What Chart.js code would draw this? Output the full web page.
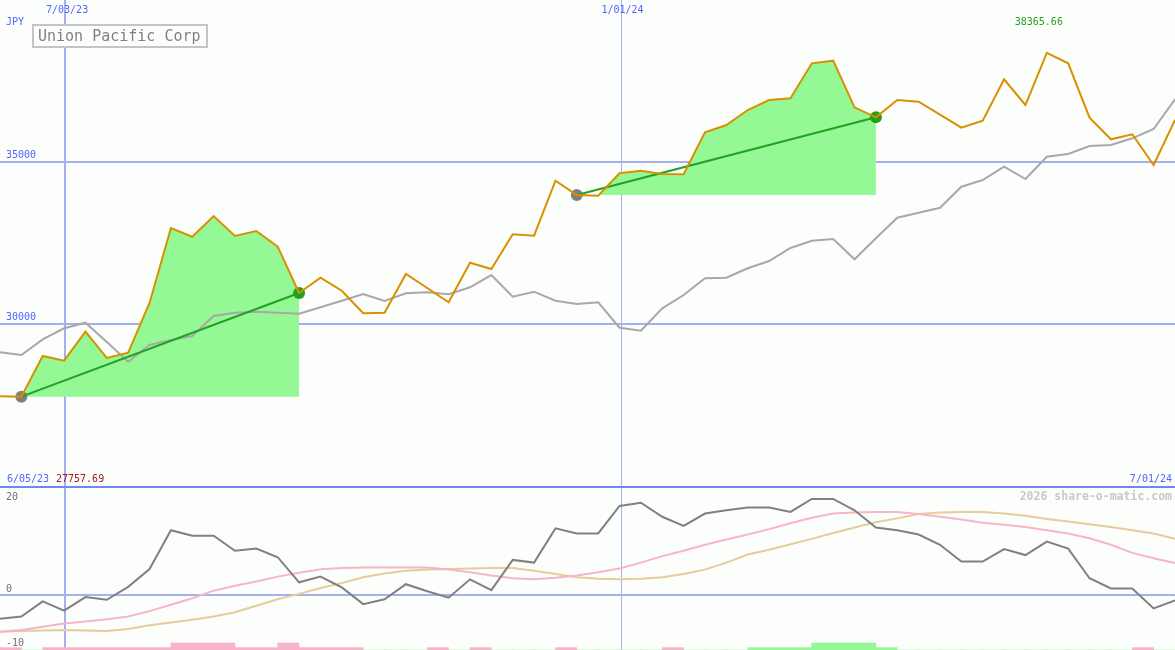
<!DOCTYPE html>
<html>
<head>
<meta charset="utf-8">
<script src="https://cdn.jsdelivr.net/npm/chart.js@4/dist/chart.umd.min.js"></script>
<style>
  html, body { margin: 0; padding: 0; background: #fcfefc; }
  #wrap { position: relative; width: 1175px; height: 650px; overflow: hidden; background: #fcfefc; }
  canvas { position: absolute; left: 0; }
  #priceChart { top: 0; }
  #oscChart { top: 486px; }
</style>
</head>
<body>
<div id="wrap">
  <canvas id="priceChart" width="1175" height="486"></canvas>
  <canvas id="oscChart" width="1175" height="164"></canvas>
</div>
<script>
// weekly closes, one per week (index 0 .. 55)
const price = [27770, 27757.69, 29012, 28867, 29762, 28951, 29114, 30648, 32963, 32694,
  33333, 32716, 32870, 32386, 30957, 31429, 31028, 30330, 30349, 31543,
  31111, 30670, 31892, 31697, 32768, 32725, 34423, 33981, 33961, 34651,
  34731, 34630, 34620, 35916, 36142, 36605, 36914, 36966, 38046, 38127,
  36688, 36379, 36914, 36862, 36460, 36059, 36275, 37552, 36759, 38365.66,
  38046, 36367, 35700, 35855, 34907, 36296];

// comparison index, rebased to the same currency
const bench = [29126, 29043, 29527, 29867, 30040, 29444, 28837, 29352, 29506, 29630,
  30247, 30349, 30380, 30349, 30318, 30515, 30719, 30926, 30710, 30947,
  30978, 30917, 31133, 31512, 30843, 30997, 30719, 30617, 30670, 29886,
  29794, 30484, 30895, 31410, 31429, 31719, 31944, 32346, 32571, 32623,
  31997, 32645, 33281, 33435, 33589, 34237, 34444, 34855, 34475, 35163,
  35247, 35494, 35525, 35731, 36018, 36935];

// lower panel
const momentum = [-4.4, -4.0, -1.2, -2.9, -0.4, -0.9, 1.5, 4.8, 12.0, 11.0,
  11.0, 8.2, 8.6, 7.0, 2.35, 3.4, 1.4, -1.7, -0.8, 2.0,
  0.7, -0.5, 2.9, 0.9, 6.5, 6.0, 12.35, 11.4, 11.4, 16.5,
  17.1, 14.5, 12.8, 15.1, 15.7, 16.2, 16.2, 15.4, 17.8, 17.8,
  15.7, 12.5, 12.0, 11.2, 9.3, 6.2, 6.2, 8.5, 7.4, 9.9,
  8.6, 3.1, 1.2, 1.2, -2.5, -1.0];
const avgFast = [-6.8, -6.5, -5.9, -5.3, -4.9, -4.5, -4.0, -3.0, -1.8, -0.6,
  0.8, 1.7, 2.5, 3.4, 4.1, 4.75, 5.0, 5.1, 5.1, 5.1,
  5.1, 4.7, 4.2, 3.6, 3.1, 2.9, 3.2, 3.6, 4.2, 4.9,
  6.0, 7.2, 8.2, 9.3, 10.3, 11.2, 12.2, 13.3, 14.3, 15.1,
  15.3, 15.4, 15.4, 15.0, 14.5, 14.0, 13.4, 13.0, 12.6, 12.0,
  11.4, 10.5, 9.3, 7.8, 6.8, 5.9];
const avgSlow = [-6.8, -6.7, -6.6, -6.5, -6.6, -6.7, -6.3, -5.6, -5.1, -4.6,
  -4.0, -3.2, -2.0, -0.8, 0.2, 1.3, 2.2, 3.3, 4.0, 4.5,
  4.7, 4.8, 4.9, 5.0, 5.0, 4.5, 3.9, 3.3, 3.0, 2.9,
  3.0, 3.3, 3.9, 4.7, 6.0, 7.5, 8.4, 9.4, 10.4, 11.5,
  12.5, 13.5, 14.2, 15.0, 15.3, 15.4, 15.4, 15.1, 14.7, 14.1,
  13.6, 13.1, 12.6, 12.0, 11.4, 10.4];
// signal per week interval: negative = sell (pink), positive = buy (green)
const signal = [-1, 0, -1, -1, -1, -1, -1, -1, -3, -3,
  -3, -1, -1, -3, -1, -1, -1, 0, 0, 0,
  -1, 0, -1, 0, 0, 0, -1, 0, 0, 0,
  0, -1, 0, 0, 0, 1, 1, 1, 3, 3,
  3, 1, 0, 0, 0, 0, 0, 0, 0, 0,
  0, 0, 0, -1, 0];

// rising runs (start index, end index)
const runStart = [1, 27];
const runEnd = [14, 41];

const priceTicks = [30000, 35000];
const oscTicks = [20, 0, -10];
const dateIdx = [3, 29];
const dateLabels = ['7/03/23', '1/01/24'];
const firstDate = '6/05/23';
const lastDate = '7/01/24';
const currency = 'JPY';
const title = 'Union Pacific Corp';

const FONT = '"DejaVu Sans Mono", "Liberation Mono", monospace';
const BLUE = '#5064ff';
const GRID = '#a4b0f0';

const pts = arr => arr.map((v, i) => ({ x: i, y: v }));

const datasets = [];
runStart.forEach((s, k) => {
  const e = runEnd[k];
  datasets.push({
    data: price.slice(s, e + 1).map((v, j) => ({ x: s + j, y: v })),
    fill: { value: price[s] },
    backgroundColor: '#94f894',
    borderWidth: 0,
    borderColor: 'rgba(0,0,0,0)',
    pointRadius: 0,
    order: 5
  });
});
datasets.push({
  data: pts(bench), borderColor: '#a8a8a8', borderWidth: 2, pointRadius: 0, fill: false, order: 4
});
const dotData = [], dotColors = [];
runStart.forEach((s, k) => {
  dotData.push({ x: s, y: price[s] });
  dotColors.push('#808080');
  dotData.push({ x: runEnd[k], y: price[runEnd[k]] });
  dotColors.push('#22a022');
});
datasets.push({
  data: dotData, showLine: false, pointRadius: 6, pointBorderWidth: 0,
  pointBackgroundColor: dotColors, order: 3
});
runStart.forEach((s, k) => {
  datasets.push({
    data: [{ x: s, y: price[s] }, { x: runEnd[k], y: price[runEnd[k]] }],
    borderColor: '#22a022', borderWidth: 2, pointRadius: 0, fill: false, order: 2
  });
});
datasets.push({
  data: pts(price), borderColor: '#d99000', borderWidth: 2, pointRadius: 0, fill: false, order: 0
});

function vLines(chart) {
  const ctx = chart.ctx, x = chart.scales.x, a = chart.chartArea;
  ctx.save();
  ctx.strokeStyle = GRID;
  dateIdx.forEach((d, i) => {
    const px = Math.round(x.getPixelForValue(d));
    ctx.lineWidth = i === 0 ? 2 : 1;
    ctx.beginPath();
    ctx.moveTo(px + (i === 0 ? 1 : 1.5), a.top);
    ctx.lineTo(px + (i === 0 ? 1 : 1.5), a.bottom);
    ctx.stroke();
  });
  ctx.restore();
}

const pricePlugin = {
  id: 'priceDecor',
  beforeDatasetsDraw(chart) {
    const ctx = chart.ctx, y = chart.scales.y, a = chart.chartArea;
    ctx.save();
    ctx.strokeStyle = GRID;
    ctx.lineWidth = 2;
    priceTicks.forEach(t => {
      const py = Math.round(y.getPixelForValue(t));
      ctx.beginPath();
      ctx.moveTo(a.left, py);
      ctx.lineTo(a.right, py);
      ctx.stroke();
    });
    ctx.restore();
    vLines(chart);
  },
  afterDatasetsDraw(chart) {
    const ctx = chart.ctx, x = chart.scales.x, y = chart.scales.y, a = chart.chartArea;
    ctx.save();
    ctx.font = '10px ' + FONT;
    ctx.textBaseline = 'alphabetic';
    ctx.fillStyle = BLUE;
    ctx.textAlign = 'left';
    priceTicks.forEach(t => {
      ctx.fillText(String(t), 6, Math.round(y.getPixelForValue(t)) - 4);
    });
    ctx.fillText(currency, 6, 25);
    ctx.textAlign = 'center';
    dateIdx.forEach((d, i) => {
      ctx.fillText(dateLabels[i], x.getPixelForValue(d) + 3, 13);
    });
    // bottom row
    ctx.textAlign = 'left';
    ctx.fillText(firstDate, 7, a.bottom - 4);
    const minV = Math.min(...price);
    ctx.fillStyle = '#a01818';
    ctx.fillText(minV.toFixed(2), 56, a.bottom - 4);
    ctx.fillStyle = BLUE;
    ctx.textAlign = 'right';
    ctx.fillText(lastDate, a.right - 3, a.bottom - 4);
    // max label
    const maxV = Math.max(...price);
    const maxI = price.indexOf(maxV);
    ctx.fillStyle = '#22a022';
    ctx.textAlign = 'center';
    ctx.fillText(maxV.toFixed(2), x.getPixelForValue(maxI) - 8, 25);
    // title box
    ctx.fillStyle = '#fcfefc';
    ctx.fillRect(33, 25, 174, 22);
    ctx.strokeStyle = '#c4c4c4';
    ctx.lineWidth = 2;
    ctx.strokeRect(33, 25, 174, 22);
    ctx.fillStyle = '#808080';
    ctx.font = '15px ' + FONT;
    ctx.textAlign = 'left';
    ctx.fillText(title, 38, 41);
    ctx.restore();
  }
};

new Chart(document.getElementById('priceChart'), {
  type: 'line',
  data: { datasets: datasets },
  options: {
    responsive: false, animation: false, devicePixelRatio: 1,
    layout: { padding: 0, autoPadding: false },
    plugins: { legend: { display: false }, tooltip: { enabled: false } },
    elements: { line: { tension: 0 } },
    scales: {
      x: { type: 'linear', min: 0, max: price.length - 1, display: false },
      y: { min: 25000, max: 40000, display: false }
    }
  },
  plugins: [pricePlugin]
});

const oscPlugin = {
  id: 'oscDecor',
  beforeDatasetsDraw(chart) {
    const ctx = chart.ctx, y = chart.scales.y, a = chart.chartArea;
    vLines(chart);
    ctx.save();
    ctx.strokeStyle = GRID;
    ctx.lineWidth = 2;
    const p0 = Math.round(y.getPixelForValue(0));
    ctx.beginPath();
    ctx.moveTo(a.left, p0);
    ctx.lineTo(a.right, p0);
    ctx.stroke();
    ctx.strokeStyle = '#7484f0';
    ctx.beginPath();
    ctx.moveTo(a.left, a.top + 1);
    ctx.lineTo(a.right, a.top + 1);
    ctx.stroke();
    ctx.restore();
  },
  afterDatasetsDraw(chart) {
    const ctx = chart.ctx, y = chart.scales.y, a = chart.chartArea;
    ctx.save();
    ctx.font = '10px ' + FONT;
    ctx.fillStyle = '#707070';
    ctx.textAlign = 'left';
    oscTicks.forEach(t => {
      const py = Math.max(Math.round(y.getPixelForValue(t)) - 3, a.top + 14);
      ctx.fillText(String(t), 6, py);
    });
    ctx.font = 'bold 11.5px ' + FONT;
    ctx.fillStyle = '#c8c8c8';
    ctx.textAlign = 'right';
    ctx.fillText('2026 share-o-matic.com', a.right - 3, a.top + 14);
    ctx.restore();
  }
};

new Chart(document.getElementById('oscChart'), {
  type: 'line',
  data: {
    datasets: [
      {
        type: 'bar', yAxisID: 'ySig',
        data: signal.map((s, i) => ({ x: i + 0.5, y: Math.abs(s) })),
        backgroundColor: signal.map(s => s < 0 ? '#f8b4c8' : '#94f894'),
        barPercentage: 1, categoryPercentage: 1, borderWidth: 0, grouped: false, order: 5
      },
      { data: pts(avgSlow), borderColor: '#e6cc9a', borderWidth: 2, pointRadius: 0, order: 3 },
      { data: pts(avgFast), borderColor: '#f8b4c8', borderWidth: 2, pointRadius: 0, order: 2 },
      { data: pts(momentum), borderColor: '#808080', borderWidth: 2, pointRadius: 0, order: 1 }
    ]
  },
  options: {
    responsive: false, animation: false, devicePixelRatio: 1,
    layout: { padding: 0, autoPadding: false },
    plugins: { legend: { display: false }, tooltip: { enabled: false } },
    elements: { line: { tension: 0 } },
    scales: {
      x: { type: 'linear', min: 0, max: price.length - 1, display: false, offset: false },
      y: { min: -10.2, max: 20.2, display: false },
      ySig: { min: 0, max: 70, display: false }
    }
  },
  plugins: [oscPlugin]
});
</script>
</body>
</html>
